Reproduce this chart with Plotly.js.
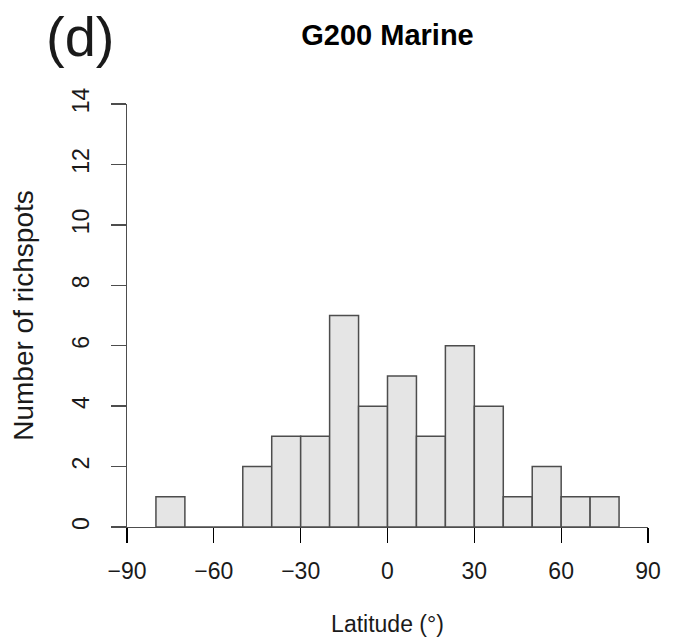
<!DOCTYPE html>
<html>
<head>
<meta charset="utf-8">
<script src="https://cdn.plot.ly/plotly-3.0.1.min.js"></script>
<style>html,body{margin:0;padding:0;background:#fff;}#chart{width:678px;height:641px;}</style>
</head>
<body>
<div id="chart"></div>
<script>
// Histogram bins (lower edges, degrees latitude) and counts
const binStart = [-80, -70, -60, -50, -40, -30, -20, -10, 0, 10, 20, 30, 40, 50, 60, 70];
const binWidth = 10;
const counts   = [1, 0, 0, 2, 3, 3, 7, 4, 5, 3, 6, 4, 1, 2, 1, 1];
const xTickVals = [-90, -60, -30, 0, 30, 60, 90];
const xTickText = ["\u221290", "\u221260", "\u221230", "0", "30", "60", "90"];
const yTickVals = [0, 2, 4, 6, 8, 10, 12, 14];
const yTickText = ["0", "2", "4", "6", "8", "10", "12", "14"];

const FONT = "Liberation Sans, Arial, Helvetica, sans-serif";
const centers = binStart.map(s => s + binWidth / 2);

const trace = {
  type: "bar",
  x: centers,
  y: counts,
  width: binStart.map(() => binWidth),
  marker: { color: "#e5e5e5", line: { color: "#4d4d4d", width: 1.5 } },
  hoverinfo: "x+y"
};

const layout = {
  width: 678, height: 641,
  margin: { l: 127, r: 30, t: 104, b: 114, pad: 0 },
  paper_bgcolor: "#ffffff", plot_bgcolor: "#ffffff",
  showlegend: false,
  font: { family: FONT, color: "#1a1a1a", size: 23 },
  title: {
    text: "<b>G200 Marine</b>",
    font: { family: FONT, size: 29, color: "#000000" },
    x: 0.5, xref: "paper", xanchor: "center",
    y: 1 - 35 / 641, yref: "container", yanchor: "middle"
  },
  xaxis: {
    range: [-90, 90], fixedrange: true,
    showgrid: false, zeroline: false,
    showline: true, linecolor: "#4d4d4d", linewidth: 1.3,
    ticks: "outside", ticklen: 15, tickwidth: 1.3, tickcolor: "#000000",
    tickvals: xTickVals, ticktext: xTickText,
    tickfont: { family: FONT, size: 23, color: "#1a1a1a" },
    ticklabelstandoff: 8,
    title: { text: "Latitude (°)", font: { family: FONT, size: 23, color: "#1a1a1a" }, standoff: 33 }
  },
  yaxis: {
    range: [0, 14], fixedrange: true,
    showgrid: false, zeroline: false,
    showline: true, linecolor: "#4d4d4d", linewidth: 1.3,
    ticks: "outside", ticklen: 15, tickwidth: 1.3, tickcolor: "#4d4d4d",
    tickvals: yTickVals, ticktext: yTickText, tickangle: -90,
    tickfont: { family: FONT, size: 23, color: "#1a1a1a" },
    ticklabelstandoff: 13,
    title: { text: "Number of richspots", font: { family: FONT, size: 28, color: "#1a1a1a" }, standoff: 25 }
  },
  annotations: [{
    text: "(d)", xref: "paper", yref: "paper",
    x: (80 - 127) / 521, y: 1 + (104 - 36) / 423,
    xanchor: "center", yanchor: "middle", showarrow: false,
    font: { family: FONT, size: 56, color: "#1a1a1a" }
  }]
};

Plotly.newPlot("chart", [trace], layout, { staticPlot: true, displayModeBar: false });
</script>
</body>
</html>
